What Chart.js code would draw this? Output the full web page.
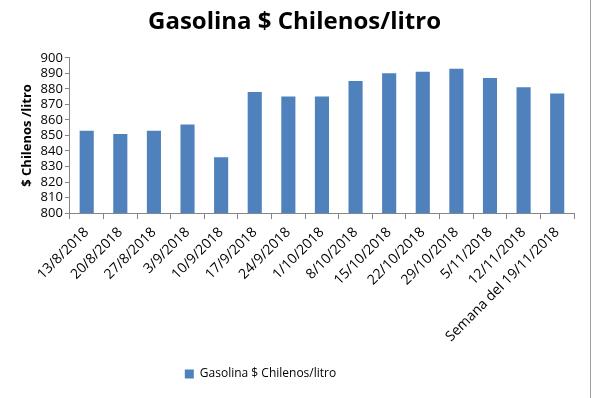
<!DOCTYPE html>
<html>
<head>
<meta charset="utf-8">
<script src="https://cdn.jsdelivr.net/npm/chart.js@4"></script>
<style>
  html, body { margin: 0; padding: 0; background: #fff; }
  #wrap { position: relative; width: 590px; height: 398px; border-right: 1px solid #a0a0a0; }
</style>
</head>
<body>
<div id="wrap"><canvas id="chart"></canvas></div>
<script>
const semanas = ["13/8/2018", "20/8/2018", "27/8/2018", "3/9/2018", "10/9/2018", "17/9/2018",
    "24/9/2018", "1/10/2018", "8/10/2018", "15/10/2018", "22/10/2018", "29/10/2018",
    "5/11/2018", "12/11/2018", "Semana del 19/11/2018"];
const precios = [853, 851, 853, 857, 836, 878, 875, 875, 885, 890, 891, 893, 887, 881, 877];
const serie = "Gasolina $ Chilenos/litro";

const fuente = "'Open Sans', 'Liberation Sans', sans-serif";

// la leyenda del original queda un poco a la izquierda del centro
const moverLeyenda = {
    id: 'moverLeyenda',
    afterLayout(chart) {
        const lg = chart.legend;
        if (lg) { lg.left -= 34; lg.right -= 34; }
    }
};

new Chart(document.getElementById('chart').getContext('2d'), {
    type: 'bar',
    data: {
        labels: semanas,
        datasets: [{
            label: serie,
            data: precios,
            backgroundColor: '#4f81bd',
            barPercentage: 0.42,
            categoryPercentage: 1
        }]
    },
    options: {
        responsive: true,
        maintainAspectRatio: false,
        animation: false,
        layout: { padding: { left: 15, right: 16, top: 2, bottom: 8 } },
        plugins: {
            title: {
                display: true,
                text: serie,
                color: '#000',
                font: { family: fuente, size: 24, weight: 'bold' },
                padding: { top: 6, bottom: 21 }
            },
            legend: {
                position: 'bottom',
                labels: {
                    color: '#000',
                    boxWidth: 9,
                    boxHeight: 9,
                    padding: 18,
                    font: { family: fuente, size: 12 }
                }
            },
            tooltip: { enabled: false }
        },
        scales: {
            x: {
                grid: { display: true, drawOnChartArea: false, tickLength: 6, color: '#868686' },
                border: { color: '#868686' },
                ticks: {
                    color: '#000',
                    autoSkip: false,
                    maxRotation: 45,
                    minRotation: 45,
                    padding: 5,
                    font: { family: fuente, size: 14 }
                }
            },
            y: {
                min: 800,
                max: 900,
                grid: { display: true, drawOnChartArea: false, tickLength: 5, color: '#868686' },
                border: { color: '#868686' },
                ticks: {
                    stepSize: 10,
                    autoSkip: false,
                    color: '#000',
                    padding: 2,
                    font: { family: fuente, size: 13 }
                },
                title: {
                    display: true,
                    text: '$ Chilenos /litro',
                    color: '#000',
                    font: { family: fuente, size: 13, weight: 'bold' }
                }
            }
        }
    },
    plugins: [moverLeyenda]
});
</script>
</body>
</html>
